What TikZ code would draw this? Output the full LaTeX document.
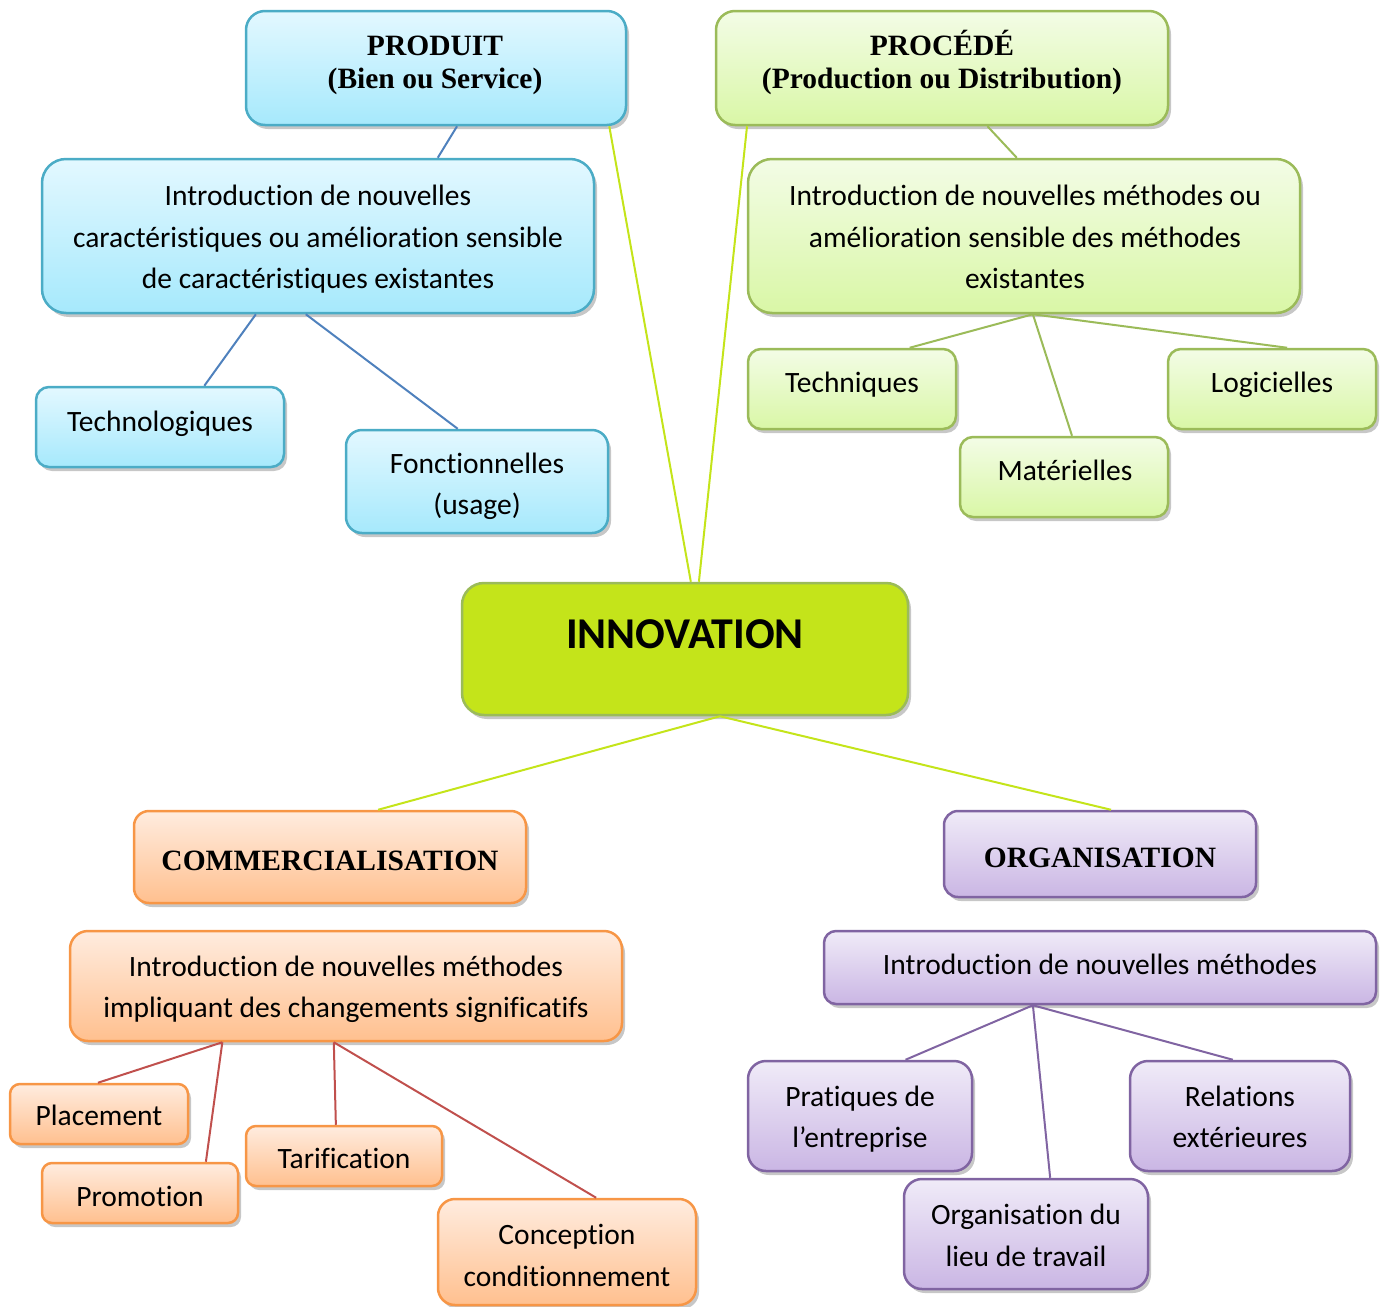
\documentclass[tikz,border=0pt]{standalone}
\usepackage{fontspec}
\setmainfont{Carlito}[Ligatures=NoCommon]
\newfontfamily\tnr{Liberation Serif}
\usetikzlibrary{calc,shadows}
\definecolor{bluetop}{HTML}{E3F8FF}
\definecolor{bluebot}{HTML}{A6E9FC}
\definecolor{blueline}{HTML}{4BACC6}
\definecolor{greentop}{HTML}{F3FCE6}
\definecolor{greenbot}{HTML}{D9F7A6}
\definecolor{greenline}{HTML}{9BBB59}
\definecolor{limefill}{HTML}{C4E41A}
\definecolor{orangetop}{HTML}{FFECDF}
\definecolor{orangebot}{HTML}{FFC08F}
\definecolor{orangeline}{HTML}{F79646}
\definecolor{purpletop}{HTML}{F0EBF8}
\definecolor{purplebot}{HTML}{CAB6E4}
\definecolor{purpleline}{HTML}{8064A2}
\definecolor{cblue}{HTML}{4F81BD}
\definecolor{cred}{HTML}{C0504D}
\tikzset{
  bx/.style={rectangle,inner sep=0pt,line width=2.5pt,
    drop shadow={shadow xshift=3pt,shadow yshift=-4pt,fill=black,opacity=0.22}},
  bluebx/.style={draw=blueline,top color=bluetop,bottom color=bluebot},
  greenbx/.style={draw=greenline,top color=greentop,bottom color=greenbot},
  limebx/.style={draw=greenline,fill=limefill},
  orangebx/.style={draw=orangeline,top color=orangetop,bottom color=orangebot},
  purplebx/.style={draw=purpleline,top color=purpletop,bottom color=purplebot},
  body/.style={inner sep=0pt,font=\fontsize{29.5}{35}\selectfont},
  ttl/.style={inner sep=0pt,font=\fontsize{29.5}{35}\selectfont\tnr\bfseries},
  big/.style={inner sep=0pt,font=\fontsize{44}{52}\selectfont\bfseries},
  lblue/.style={draw=cblue,line width=2pt},
  lgreen/.style={draw=greenline,line width=2pt},
  llime/.style={draw=limefill,line width=2pt},
  lred/.style={draw=cred,line width=2pt},
  lpurple/.style={draw=purpleline,line width=2pt},
}
\newcommand\bx[7]{\node[bx,#2,rounded corners=#7pt,minimum width={(#5-#3)*1pt},minimum height={(#6-#4)*1pt}] (#1) at ({(#3+#5)/2},{(#4+#6)/2}) {};}
\newcommand\tx[5]{\node[#2,anchor=base] (#1) at (#3,#4) {#5};}
\newcommand\cn[5]{\draw[#1] ($(#2.south west)!#3!(#2.south east)$) -- ($(#4.north west)!#5!(#4.north east)$);}
\begin{document}
\begin{tikzpicture}[x=1pt,y=-1pt]
\useasboundingbox (0,0) rectangle (1382,1307);
% boxes
\bx{prod}{bluebx}{246}{11}{626}{125}{19}
\bx{proc}{greenbx}{716}{11}{1168}{125}{19}
\bx{pdesc}{bluebx}{42}{159}{594}{313}{24}
\bx{techno}{bluebx}{36}{387}{284}{467}{13}
\bx{fonc}{bluebx}{346}{430}{608}{533}{16}
\bx{cdesc}{greenbx}{748}{159}{1300}{313}{24}
\bx{techn}{greenbx}{748}{349}{956}{429}{13}
\bx{logi}{greenbx}{1168}{349}{1376}{429}{13}
\bx{mate}{greenbx}{960}{437}{1168}{517}{13}
\bx{innov}{limebx}{462}{583}{908}{715}{22}
\bx{comm}{orangebx}{134}{811}{526}{903}{15}
\bx{orga}{purplebx}{944}{811}{1256}{897}{14}
\bx{mdesc}{orangebx}{70}{931}{622}{1041}{18}
\bx{odesc}{purplebx}{824}{931}{1376}{1004}{12}
\bx{plac}{orangebx}{10}{1084}{188}{1144}{10}
\bx{promo}{orangebx}{42}{1163}{238}{1223}{10}
\bx{tarif}{orangebx}{246}{1126}{442}{1186}{10}
\bx{conc}{orangebx}{438}{1199}{696}{1305}{17}
\bx{prat}{purplebx}{748}{1061}{972}{1171}{18}
\bx{rela}{purplebx}{1130}{1061}{1350}{1171}{18}
\bx{lieu}{purplebx}{904}{1179}{1148}{1289}{18}
% connectors
\cn{lblue}{prod}{0.555}{pdesc}{0.716}
\cn{llime}{prod}{0.953}{innov}{0.513}
\cn{llime}{proc}{0.071}{innov}{0.531}
\cn{lgreen}{proc}{0.600}{cdesc}{0.487}
\cn{lblue}{pdesc}{0.388}{techno}{0.677}
\cn{lblue}{pdesc}{0.478}{fonc}{0.427}
\cn{lgreen}{cdesc}{0.516}{techn}{0.774}
\cn{lgreen}{cdesc}{0.516}{mate}{0.538}
\cn{lgreen}{cdesc}{0.516}{logi}{0.572}
\cn{llime}{innov}{0.578}{comm}{0.622}
\cn{llime}{innov}{0.578}{orga}{0.535}
\cn{lred}{mdesc}{0.277}{plac}{0.494}
\cn{lred}{mdesc}{0.277}{promo}{0.832}
\cn{lred}{mdesc}{0.478}{tarif}{0.459}
\cn{lred}{mdesc}{0.478}{conc}{0.612}
\cn{lpurple}{odesc}{0.379}{prat}{0.701}
\cn{lpurple}{odesc}{0.379}{lieu}{0.598}
\cn{lpurple}{odesc}{0.379}{rela}{0.468}
% texts
\tx{prod1}{ttl}{435}{55}{PRODUIT}
\tx{prod2}{ttl}{435}{88}{(Bien ou Service)}
\tx{proc1}{ttl}{942}{55}{PROCÉDÉ}
\tx{proc2}{ttl}{942}{88}{(Production ou Distribution)}
\tx{pd1}{body}{318}{205}{Introduction de nouvelles}
\tx{pd2}{body}{318}{247}{caractéristiques ou amélioration sensible}
\tx{pd3}{body}{318}{288}{de caractéristiques existantes}
\tx{cd1}{body}{1025}{205}{Introduction de nouvelles méthodes ou}
\tx{cd2}{body}{1025}{247}{amélioration sensible des méthodes}
\tx{cd3}{body}{1025}{288}{existantes}
\tx{techno1}{body}{160}{431}{Technologiques}
\tx{fonc1}{body}{477}{473}{Fonctionnelles}
\tx{fonc2}{body}{477}{514}{(usage)}
\tx{techn1}{body}{852}{392}{Techniques}
\tx{logi1}{body}{1272}{392}{Logicielles}
\tx{mate1}{body}{1065}{480}{Matérielles}
\tx{innov1}{big}{685}{648}{INNOVATION}
\tx{comm1}{ttl}{330}{870}{COMMERCIALISATION}
\tx{orga1}{ttl}{1100}{867}{ORGANISATION}
\tx{md1}{body}{346}{976}{Introduction de nouvelles méthodes}
\tx{md2}{body}{346}{1017}{impliquant des changements significatifs}
\tx{od1}{body}{1100}{974}{Introduction de nouvelles méthodes}
\tx{plac1}{body}{99}{1125}{Placement}
\tx{promo1}{body}{140}{1206}{Promotion}
\tx{tarif1}{body}{344}{1168}{Tarification}
\tx{conc1}{body}{567}{1244}{Conception}
\tx{conc2}{body}{567}{1286}{conditionnement}
\tx{prat1}{body}{860}{1106}{Pratiques de}
\tx{prat2}{body}{860}{1147}{l’entreprise}
\tx{rela1}{body}{1240}{1106}{Relations}
\tx{rela2}{body}{1240}{1147}{extérieures}
\tx{lieu1}{body}{1026}{1224}{Organisation du}
\tx{lieu2}{body}{1026}{1266}{lieu de travail}
\end{tikzpicture}
\end{document}
